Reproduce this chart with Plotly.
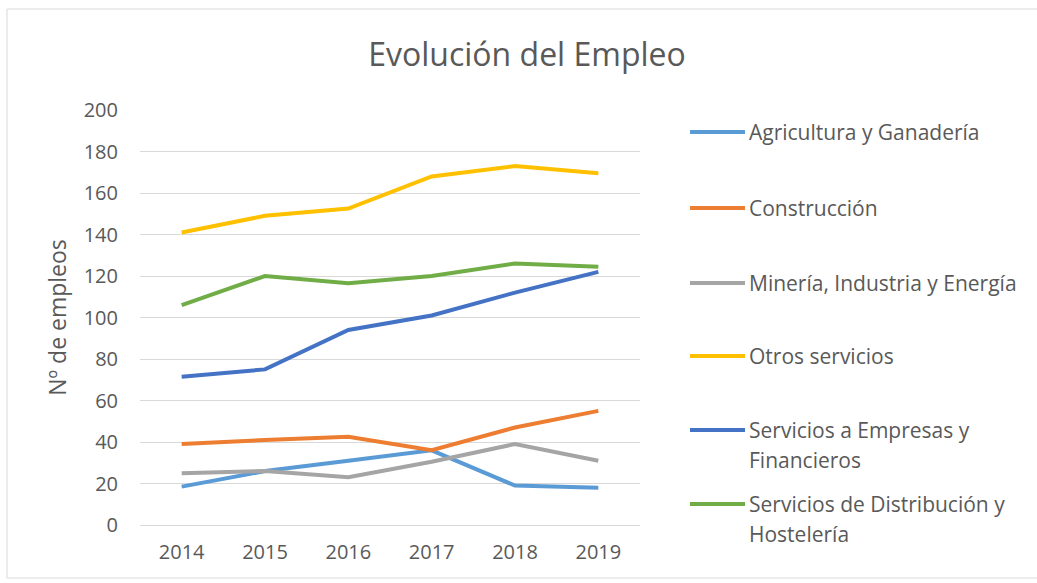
import plotly.graph_objects as go

# | data section |
years = ["2014", "2015", "2016", "2017", "2018", "2019"]
series_names = [
    "Agricultura y Ganadería",
    "Construcción",
    "Minería, Industria y Energía",
    "Otros servicios",
    "Servicios a Empresas y\nFinancieros",
    "Servicios de Distribución y\nHostelería",
]
agricultura = [18.5, 26, 31, 36, 19, 18]
construccion = [39, 41, 42.5, 36, 47, 55]
mineria = [25, 26, 23, 30.5, 39, 31]
otros = [141, 149, 152.5, 168, 173, 169.5]
empresas = [71.5, 75, 94, 101, 112, 122]
distribucion = [106, 120, 116.5, 120, 126, 124.5]
series_values = [agricultura, construccion, mineria, otros, empresas, distribucion]
colors = ["#5B9BD5", "#ED7D31", "#A5A5A5", "#FFC000", "#4472C4", "#70AD47"]
y_ticks = [0, 20, 40, 60, 80, 100, 120, 140, 160, 180, 200]

# | layout helpers (pixel -> paper) |
W, H = 1037, 583
L, R, T, B = 140, 640, 110, 525
FONT = "Open Sans"
GREY = "#595959"


def px(x):
    return (x - L) / (R - L)


def py(y):
    return (B - y) / (B - T)


# | graph section |
fig = go.Figure()

for name, vals, col in zip(series_names, series_values, colors):
    fig.add_trace(
        go.Scatter(
            x=years,
            y=vals,
            name=name.replace("\n", " "),
            mode="lines",
            line={"color": col, "width": 4},
            showlegend=False,
        )
    )

# hand-made legend so the entries keep Excel's even spacing
legend_y = [132, 208, 283, 356, 430, 504]
for name, col, ly in zip(series_names, colors, legend_y):
    fig.add_shape(
        type="line", xref="paper", yref="paper",
        x0=px(690), x1=px(745), y0=py(ly), y1=py(ly),
        line={"color": col, "width": 4},
    )
    for i, part in enumerate(name.split("\n")):
        fig.add_annotation(
            xref="paper", yref="paper", x=px(747), y=py(ly + 30 * i),
            text=part, showarrow=False, xanchor="left", yanchor="middle",
            font={"family": FONT, "size": 21, "color": GREY},
        )

# chart border
fig.add_shape(
    type="rect", xref="paper", yref="paper",
    x0=px(7), x1=px(1040), y0=py(578), y1=py(9),
    line={"color": "#D9D9D9", "width": 1},
)

fig.update_layout(
    width=W,
    height=H,
    margin={"l": L, "r": W - R, "t": T, "b": H - B},
    paper_bgcolor="white",
    plot_bgcolor="white",
    title={
        "text": "Evolución del Empleo",
        "x": 527 / W, "xanchor": "center",
        "y": 1 - 55 / H, "yanchor": "middle",
        "font": {"family": FONT, "size": 32, "color": GREY},
    },
    font={"family": FONT, "color": GREY},
)
fig.update_xaxes(
    type="category",
    range=[-0.5, 5.5],
    showgrid=False,
    showline=False,
    zeroline=False,
    tickfont={"size": 20, "color": GREY},
    ticklabelstandoff=13,
)
fig.update_yaxes(
    range=[0, 200],
    tickvals=y_ticks,
    showgrid=True,
    gridcolor="#D9D9D9",
    gridwidth=1,
    zeroline=True,
    zerolinecolor="#D9D9D9",
    zerolinewidth=1,
    showline=False,
    tickfont={"size": 20, "color": GREY},
    ticklabelstandoff=21,
    title={"text": "Nº de empleos", "font": {"size": 23, "color": GREY}, "standoff": 10},
)

# the page body has an 8px default margin; drop it so pixels line up
fig.write_html(
    "out.html",
    config={"displayModeBar": False},
    post_script="document.body.style.margin = '0';",
)
